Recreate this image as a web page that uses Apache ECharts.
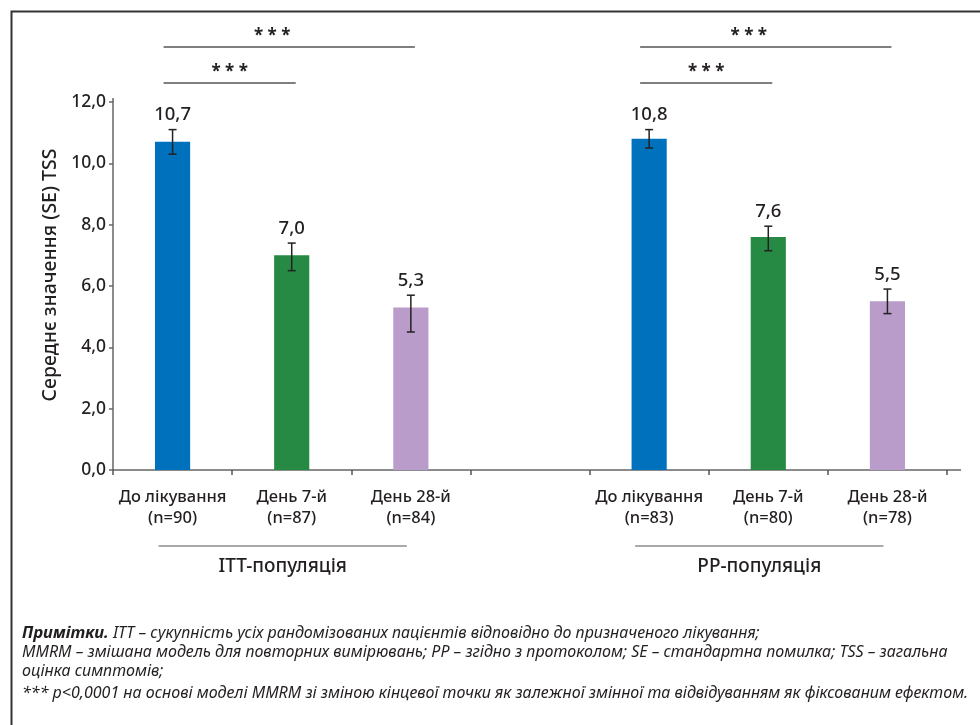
<!DOCTYPE html>
<html><head><meta charset="utf-8">
<script src="https://cdn.jsdelivr.net/npm/echarts@6/dist/echarts.min.js"></script>
<style>html,body{margin:0;padding:0;background:#fff}#c{width:980px;height:725px}</style>
</head><body><div id="c"></div>
<script>
// ---- data ----
const categories = ['До лікування\n(n=90)', 'День 7-й\n(n=87)', 'День 28-й\n(n=84)', '', 'До лікування\n(n=83)', 'День 7-й\n(n=80)', 'День 28-й\n(n=78)'];
const means   = [10.7, 7.0, 5.3, null, 10.8, 7.6, 5.5];
const errLow  = [10.3, 6.5, 4.5, null, 10.5, 7.15, 5.1];
const errHigh = [11.1, 7.4, 5.7, null, 11.1, 7.95, 5.9];
const barColors = ['#0071bc', '#278a44', '#b99cc9', null, '#0071bc', '#278a44', '#b99cc9'];
const yMin = 0, yMax = 12, yInterval = 2;
const brackets = [[0, 1, 0], [0, 2, 1], [4, 5, 0], [4, 6, 1]]; // from, to, level
const bracketLabel = '* * *';
const groupNames = ['ITT-популяція', 'PP-популяція'];
const groupRanges = [[0, 2], [4, 6]];
const yAxisName = 'Середнє значення (SE) TSS';
const notes = [
  '{b|Примітки.} ITT – сукупність усіх рандомізованих пацієнтів відповідно до призначеного лікування;',
  'MMRM – змішана модель для повторних вимірювань; PP – згідно з протоколом; SE – стандартна помилка; TSS – загальна',
  'оцінка симптомів;',
  '*** p<0,0001 на основі моделі MMRM зі зміною кінцевої точки як залежної змінної та відвідуванням як фіксованим ефектом.'
];

// ---- chart ----
const FONT = '"Noto Sans", sans-serif';
const TXT = '#231f20';
const fmt = v => v.toFixed(1).replace('.', ',');
const G = { left: 113, right: 33, top: 102, bottom: 255 };

const barData = means.map((v, i) => v == null ? '-' : { value: v, itemStyle: { color: barColors[i] } });
const errData = [];
means.forEach((v, i) => { if (v != null) errData.push([i, errLow[i], errHigh[i], v]); });

const chart = echarts.init(document.getElementById('c'), null, { renderer: 'canvas' });

const noteTops = [625, 644, 663, 685];
const notesGraphic = notes.map((t, i) => ({
  type: 'text', left: 22, top: noteTops[i],
  style: {
    text: t, fill: TXT, font: 'italic 16px ' + FONT,
    rich: { b: { fontStyle: 'italic', fontWeight: 'bold', fontSize: 16.5, fontFamily: FONT, fill: TXT } }
  }
}));

chart.setOption({
  animation: false,
  backgroundColor: '#fff',
  grid: G,
  xAxis: {
    type: 'category', data: categories,
    axisLine: { lineStyle: { color: '#666', width: 1.5 } },
    axisTick: { show: true, length: 5, lineStyle: { color: '#555', width: 1.5 } },
    axisLabel: { color: TXT, fontSize: 16.5, fontWeight: 500, fontFamily: FONT, lineHeight: 21, margin: 17, interval: 0 }
  },
  yAxis: {
    type: 'value', min: yMin, max: yMax, interval: yInterval,
    name: yAxisName, nameLocation: 'middle', nameGap: 50,
    nameTextStyle: { color: TXT, fontSize: 19.5, fontWeight: 500, fontFamily: FONT, padding: [0, 0, 0, 22] },
    axisLine: { show: true, lineStyle: { color: '#666', width: 1.5 } },
    axisTick: { show: true, length: 4, lineStyle: { color: '#666', width: 1.5 } },
    splitLine: { show: false },
    axisLabel: { color: TXT, fontSize: 17.5, fontWeight: 500, fontFamily: FONT, margin: 7, formatter: v => fmt(v) }
  },
  series: [
    { type: 'bar', data: barData, barWidth: '29.5%', z: 2 },
    {
      type: 'custom', data: errData, encode: { x: 0, y: [1, 2] }, z: 3, clip: false,
      renderItem(params, api) {
        const x = api.value(0);
        const lo = api.coord([x, api.value(1)]);
        const hi = api.coord([x, api.value(2)]);
        const cap = 4, st = { stroke: '#222', lineWidth: 1.5 };
        return { type: 'group', children: [
          { type: 'line', shape: { x1: hi[0], y1: hi[1], x2: lo[0], y2: lo[1] }, style: st },
          { type: 'line', shape: { x1: hi[0] - cap, y1: hi[1], x2: hi[0] + cap, y2: hi[1] }, style: st },
          { type: 'line', shape: { x1: lo[0] - cap, y1: lo[1], x2: lo[0] + cap, y2: lo[1] }, style: st },
          { type: 'text', x: hi[0], y: hi[1] - 5, style: { text: fmt(api.value(3)), align: 'center', verticalAlign: 'bottom', font: '500 18.5px ' + FONT, fill: TXT } }
        ] };
      }
    },
    {
      type: 'custom', data: brackets, encode: { x: [0, 1] }, z: 3, clip: false,
      renderItem(params, api) {
        const cs = params.coordSys;
        const a = api.coord([api.value(0), 0])[0];
        const b = api.coord([api.value(1), 0])[0];
        const lvl = api.value(2);
        const y = cs.y - 19 - lvl * 36;
        const x1 = a - 9, x2 = b + 4;
        const mid = (x1 + x2) / 2 - lvl * 17;
        return { type: 'group', children: [
          { type: 'line', shape: { x1, y1: y, x2, y2: y }, style: { stroke: '#555', lineWidth: 1.5 } },
          { type: 'text', x: mid, y: y - 2, style: { text: bracketLabel, align: 'center', verticalAlign: 'bottom', font: 'bold 17px ' + FONT, fill: TXT } }
        ] };
      }
    },
    {
      type: 'custom', data: groupRanges, encode: { x: [0, 1] }, z: 3, clip: false,
      renderItem(params, api) {
        const cs = params.coordSys;
        const a = api.coord([api.value(0), 0])[0];
        const b = api.coord([api.value(1), 0])[0];
        const x1 = a - 14, x2 = b - 4;
        const yb = cs.y + cs.height;
        return { type: 'group', children: [
          { type: 'line', shape: { x1, y1: yb + 76, x2, y2: yb + 76 }, style: { stroke: '#555', lineWidth: 1.2 } },
          { type: 'text', x: (x1 + x2) / 2, y: yb + 97, style: { text: groupNames[params.dataIndex], align: 'center', verticalAlign: 'middle', font: '500 19px ' + FONT, fill: TXT } }
        ] };
      }
    }
  ],
  graphic: [
    { type: 'rect', shape: { x: 11.5, y: 11.5, width: 1000, height: 800 }, style: { fill: 'none', stroke: '#333', lineWidth: 2 }, silent: true },
    { type: 'line', shape: { x1: 980 - G.right, y1: 725 - G.bottom, x2: 980 - G.right + 14, y2: 725 - G.bottom }, style: { stroke: '#666', lineWidth: 1.5 } },
    { type: 'line', shape: { x1: G.left, y1: G.top - 4, x2: G.left, y2: G.top }, style: { stroke: '#666', lineWidth: 1.5 } }
  ].concat(notesGraphic)
});
</script></body></html>
